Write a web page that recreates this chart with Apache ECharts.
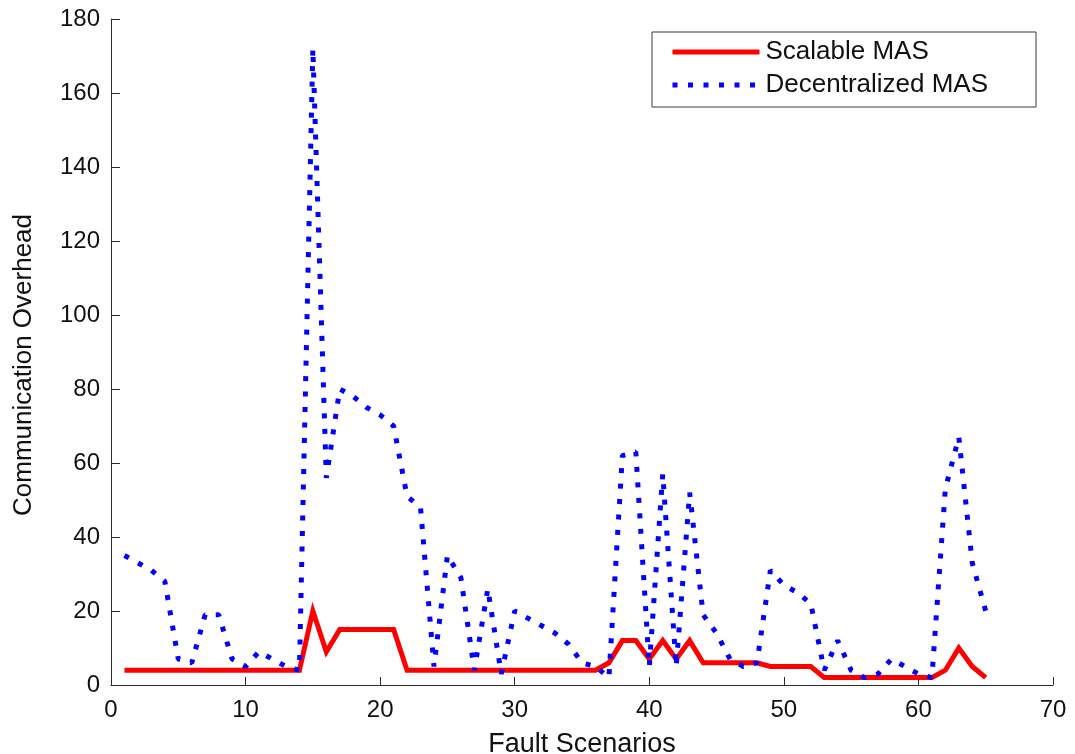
<!DOCTYPE html>
<html>
<head>
<meta charset="utf-8">
<script src="https://cdn.jsdelivr.net/npm/echarts@6/dist/echarts.min.js"></script>
<style>
html,body{margin:0;padding:0;background:#fff;}
#chart{width:1075px;height:754px;}
</style>
</head>
<body>
<div id="chart"></div>
<script>
// Fault scenario numbers (x)
const scenarios = [1,2,3,4,5,6,7,8,9,10,11,12,13,14,15,16,17,18,19,20,21,22,23,24,25,26,27,28,29,30,31,32,33,34,35,36,37,38,39,40,41,42,43,44,45,46,47,48,49,50,51,52,53,54,55,56,57,58,59,60,61,62,63,64,65];
// Scalable MAS communication overhead
const scalableMAS = [4,4,4,4,4,4,4,4,4,4,4,4,4,4,20,9,15,15,15,15,15,4,4,4,4,4,4,4,4,4,4,4,4,4,4,4,6,12,12,7,12,7,12,6,6,6,6,6,5,5,5,5,2,2,2,2,2,2,2,2,2,4,10,5,2];
// Decentralized MAS communication overhead
const decentralizedMAS = [35,33,31,28,7,6,19,19,7,5,9,7,5,4,172,56,80,78,75,73,70,51,48,5,35,29,4,26,3,20,18,16,14,11,6,5,2,62,63,5,57,5,52,19,14,7,5,6,31,27,25,22,4,12,4,2,3,7,5,3,2,53,67,33,20];
const seriesNames = ['Scalable MAS', 'Decentralized MAS'];
const xTitle = 'Fault Scenarios';
const yTitle = 'Communication Overhead';

const pair = (xs, ys) => xs.map((x, i) => [x, ys[i]]);
const FONT = '"Liberation Sans", Arial, Helvetica, sans-serif';

const chart = echarts.init(document.getElementById('chart'), null, {renderer: 'canvas'});
chart.setOption({
  animation: false,
  backgroundColor: '#ffffff',
  grid: {left: 111, right: 22, top: 19, bottom: 69, containLabel: false, outerBoundsMode: 'none'},
  legend: {
    orient: 'vertical',
    left: 652,
    top: 32,
    padding: [7, 48, 9, 18],
    itemGap: 7,
    itemWidth: 87,
    itemHeight: 14,
    borderColor: '#3a3a3a',
    borderWidth: 1,
    backgroundColor: '#ffffff',
    itemStyle: {opacity: 0},
    lineStyle: {width: 5},
    textStyle: {fontFamily: FONT, fontSize: 26, color: '#111', lineHeight: 26, padding: [0, 0, 0, 1]},
    data: seriesNames
  },
  xAxis: {
    type: 'value',
    min: 0, max: 70, interval: 10,
    name: xTitle,
    nameLocation: 'middle',
    nameGap: 46,
    nameTextStyle: {fontFamily: FONT, fontSize: 27, color: '#111'},
    axisLine: {show: true, onZero: false, lineStyle: {color: '#2b2b2b', width: 1}},
    axisTick: {show: true, inside: true, length: 8, lineStyle: {color: '#2b2b2b', width: 1}},
    axisLabel: {fontFamily: FONT, fontSize: 24, color: '#111', margin: 13},
    splitLine: {show: false}
  },
  yAxis: {
    type: 'value',
    min: 0, max: 180, interval: 20,
    name: yTitle,
    nameLocation: 'middle',
    nameRotate: 90,
    nameGap: 74,
    nameTextStyle: {fontFamily: FONT, fontSize: 26, color: '#111', padding: [0, 26, 0, 0]},
    axisLine: {show: true, lineStyle: {color: '#2b2b2b', width: 1}},
    axisTick: {show: true, inside: true, length: 9, lineStyle: {color: '#2b2b2b', width: 1}},
    axisLabel: {fontFamily: FONT, fontSize: 24, color: '#111', margin: 11},
    splitLine: {show: false}
  },
  series: [
    {
      name: seriesNames[0],
      type: 'line',
      data: pair(scenarios, scalableMAS),
      symbol: 'none',
      lineStyle: {color: '#ff0000', width: 5, join: 'miter', cap: 'butt'},
      itemStyle: {color: '#ff0000'},
      z: 2
    },
    {
      name: seriesNames[1],
      type: 'line',
      data: pair(scenarios, decentralizedMAS),
      symbol: 'none',
      lineStyle: {color: '#0000ff', width: 5, type: [5, 10.5], cap: 'butt'},
      itemStyle: {color: '#0000ff'},
      z: 3
    }
  ]
});
</script>
</body>
</html>
